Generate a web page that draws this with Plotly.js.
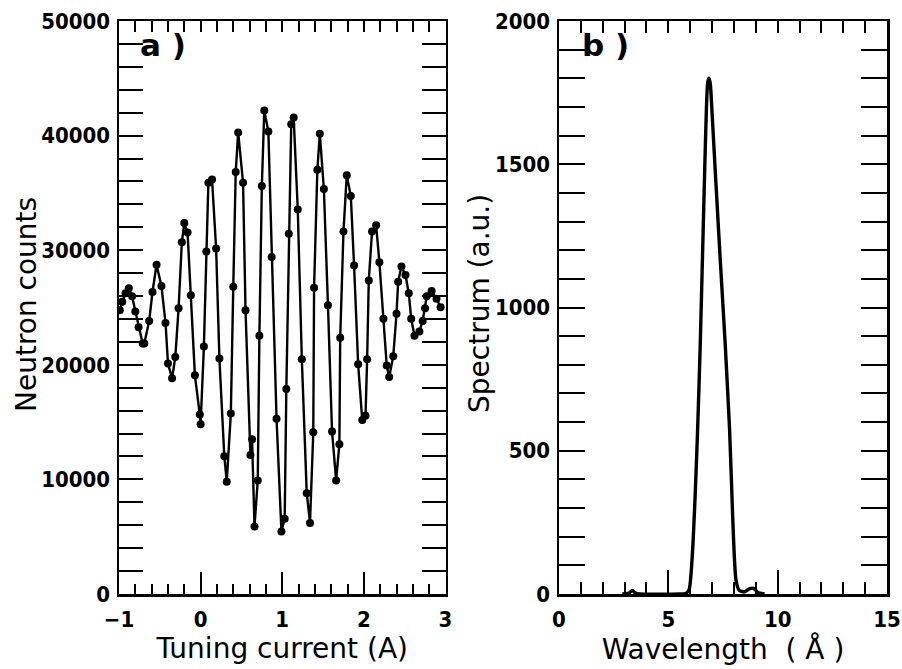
<!DOCTYPE html>
<html>
<head>
<meta charset="utf-8">
<script src="https://cdn.plot.ly/plotly-3.0.1.min.js"></script>
<style>html,body{margin:0;padding:0;background:#fff;}#chart{width:902px;height:669px;}</style>
</head>
<body>
<div id="chart"></div>
<script>
// Panel a: interference oscillation (tuning current in A, neutron counts)
const tuningCurrent = [-0.99,-0.96,-0.92,-0.88,-0.84,-0.80,-0.76,-0.71,-0.69,-0.63,-0.59,-0.54,-0.48,-0.43,-0.40,-0.35,-0.31,-0.27,-0.23,-0.20,-0.16,-0.12,-0.07,-0.01,0.00,0.04,0.07,0.095,0.14,0.19,0.23,0.29,0.32,0.37,0.40,0.43,0.46,0.52,0.55,0.61,0.63,0.66,0.70,0.72,0.75,0.78,0.83,0.87,0.93,0.99,1.03,1.05,1.08,1.11,1.14,1.19,1.24,1.30,1.34,1.38,1.39,1.43,1.46,1.51,1.56,1.61,1.66,1.70,1.71,1.75,1.79,1.84,1.88,1.93,1.98,2.02,2.04,2.06,2.10,2.15,2.19,2.24,2.28,2.31,2.36,2.40,2.42,2.46,2.51,2.55,2.58,2.62,2.68,2.72,2.75,2.77,2.83,2.89,2.94];
const neutronCounts = [24760,25500,26240,26690,25980,24650,23270,21860,21860,23830,26350,28730,26870,23650,20120,18820,20680,24940,30700,32370,31550,26060,19080,15660,14810,21600,29880,35890,36160,30140,20560,12030,9800,15740,26800,36820,40280,35890,24760,12140,13500,5900,9910,22530,35600,42200,40350,29400,15290,5460,6570,17890,31440,40980,41570,33560,20490,8800,6200,14110,26730,37010,40160,35340,25200,14180,9910,13070,22350,31630,36530,34740,28660,20040,15180,15550,20490,27360,31630,32180,28950,24020,19930,18930,20750,24460,27250,28580,27840,26240,24020,22530,22900,23830,24940,25980,26430,25760,25020];

// Panel b: wavelength spectrum
const wavelength = [2.9,3.2,3.35,3.5,3.7,5.5,5.8,5.95,6.1,6.23,6.34,6.46,6.56,6.66,6.74,6.8,6.86,6.92,7.0,7.15,7.37,7.6,7.8,7.94,8.02,8.1,8.25,8.5,8.7,8.9,9.1,9.4];
const spectrum = [0,3,12,3,0,0,2,15,140,350,575,873,1171,1470,1690,1785,1800,1780,1679,1470,1171,873,575,276,127,45,12,8,18,20,5,0];

const tickFont = {family: '"DejaVu Sans Condensed", "DejaVu Sans", sans-serif', size: 22, color: '#000', weight: 'bold'};
const titleFont = {family: '"DejaVu Sans", sans-serif', size: 28, color: '#000'};

const W = 902, H = 669;
const dom = (a, b, n) => [a / n, b / n];

const traces = [
  {x: tuningCurrent, y: neutronCounts, xaxis: 'x', yaxis: 'y', type: 'scatter', mode: 'lines+markers',
   line: {color: '#000', width: 2.4}, marker: {color: '#000', size: 8}, hoverinfo: 'x+y'},
  {x: wavelength, y: spectrum, xaxis: 'x2', yaxis: 'y2', type: 'scatter', mode: 'lines',
   line: {color: '#000', width: 3.4, shape: 'spline', smoothing: 0.6}}
];

const baseAxis = {
  showgrid: false, zeroline: false, showline: true, linecolor: '#000', linewidth: 2.5,
  ticks: 'inside', tickcolor: '#000', tickwidth: 2, tickfont: tickFont
};

const layout = {
  width: W, height: H,
  margin: {l: 0, r: 0, t: 0, b: 0},
  paper_bgcolor: '#fff', plot_bgcolor: '#fff',
  showlegend: false,
  xaxis: Object.assign({}, baseAxis, {
    domain: dom(119, 445.5, W), range: [-1, 3], dtick: 1, ticklen: 22, mirror: true,
    minor: {dtick: 0.2, ticks: 'inside', ticklen: 10, tickcolor: '#000', tickwidth: 2},
    anchor: 'y', ticklabelstandoff: 4,
    title: {text: 'Tuning current (A)', font: titleFont, standoff: 5}
  }),
  yaxis: Object.assign({}, baseAxis, {
    domain: [1 - 594 / H, 1 - 21 / H], range: [0, 50000], dtick: 10000, ticklen: 24, mirror: 'allticks',
    minor: {dtick: 2000, ticks: 'inside', ticklen: 10, tickcolor: '#000', tickwidth: 2},
    anchor: 'x', tickformat: 'd', ticklabelstandoff: 2
  }),
  xaxis3: {
    overlaying: 'x', side: 'top', anchor: 'y', range: [-1, 3], dtick: 0.2, tick0: -1,
    ticks: 'inside', ticklen: 11, tickwidth: 2, tickcolor: '#000', showticklabels: false,
    showgrid: false, zeroline: false, showline: false
  },
  xaxis2: Object.assign({}, baseAxis, {
    domain: dom(559, 887, W), range: [0, 15], dtick: 5, ticklen: 24, mirror: true,
    minor: {dtick: 1, ticks: 'inside', ticklen: 12, tickcolor: '#000', tickwidth: 2},
    anchor: 'y2', ticklabelstandoff: 4,
    title: {text: 'Wavelength  ( Å )', font: titleFont, standoff: 5}
  }),
  yaxis2: Object.assign({}, baseAxis, {
    domain: [1 - 594 / H, 1 - 21 / H], range: [0, 2000], dtick: 500, ticklen: 26, mirror: 'allticks',
    minor: {dtick: 100, ticks: 'inside', ticklen: 14, tickcolor: '#000', tickwidth: 2},
    anchor: 'x2', tickformat: 'd', ticklabelstandoff: 2
  }),
  xaxis4: {
    overlaying: 'x2', side: 'top', anchor: 'y2', range: [0, 15], dtick: 1, tick0: 0,
    ticks: 'inside', ticklen: 12, tickwidth: 2, tickcolor: '#000', showticklabels: false,
    showgrid: false, zeroline: false, showline: false
  },
  annotations: [
    {text: 'a )', xref: 'paper', yref: 'paper', x: 138 / W, y: 1 - 45 / H, xanchor: 'left', yanchor: 'middle',
     showarrow: false, font: {family: '"DejaVu Sans", sans-serif', size: 31, color: '#000', weight: 'bold'}},
    {text: 'b )', xref: 'paper', yref: 'paper', x: 580 / W, y: 1 - 45 / H, xanchor: 'left', yanchor: 'middle',
     showarrow: false, font: {family: '"DejaVu Sans", sans-serif', size: 31, color: '#000', weight: 'bold'}},
    {text: 'Neutron counts', xref: 'paper', yref: 'paper', x: 26 / W, y: 1 - 305 / H, xanchor: 'center', yanchor: 'middle',
     textangle: -90, showarrow: false, font: titleFont},
    {text: 'Spectrum (a.u.)', xref: 'paper', yref: 'paper', x: 479 / W, y: 1 - 303 / H, xanchor: 'center', yanchor: 'middle',
     textangle: -90, showarrow: false, font: titleFont}
  ]
};

// invisible traces so the top tick axes are drawn
traces.push({x: [-1, 3], y: [0, 0], xaxis: 'x3', yaxis: 'y', mode: 'lines', line: {width: 0}, hoverinfo: 'skip'});
traces.push({x: [0, 15], y: [0, 0], xaxis: 'x4', yaxis: 'y2', mode: 'lines', line: {width: 0}, hoverinfo: 'skip'});

Plotly.newPlot('chart', traces, layout, {displayModeBar: false, staticPlot: true});
</script>
</body>
</html>
